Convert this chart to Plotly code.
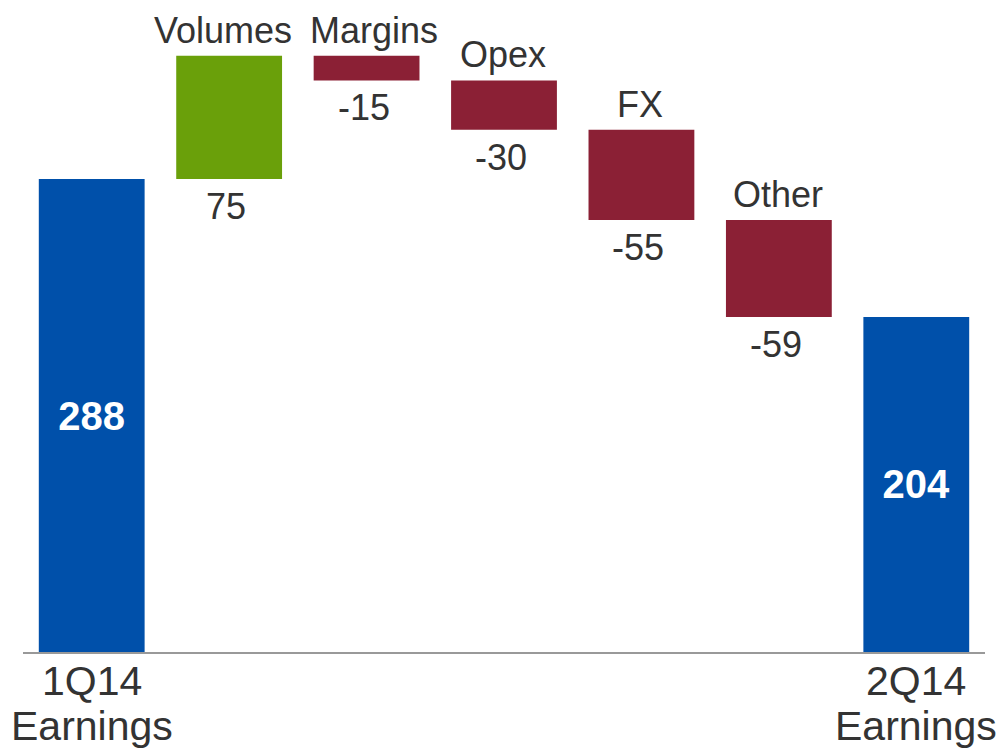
import plotly.graph_objects as go

# Earnings bridge, 1Q14 -> 2Q14
categories = ["1Q14 Earnings", "Volumes", "Margins", "Opex", "FX", "Other", "2Q14 Earnings"]
start_total = 288
changes = [75, -15, -30, -55, -59]
end_total = 204
tick_labels = ["1Q14<br>Earnings", "", "", "", "", "", "2Q14<br>Earnings"]

BLUE = "#0050AA"
GREEN = "#6AA00A"
RED = "#8B2035"
TEXT = "#333333"
FONT = "Liberation Sans, Arial, sans-serif"

# floating bar bases and heights
bases = [0]
heights = [start_total]
colors = [BLUE]
running = start_total
for c in changes:
    lo = running if c >= 0 else running + c
    bases.append(lo)
    heights.append(abs(c))
    colors.append(GREEN if c >= 0 else RED)
    running += c
bases.append(0)
heights.append(end_total)
colors.append(BLUE)

inside_text = [str(start_total)] + [""] * len(changes) + [str(end_total)]

fig = go.Figure(go.Bar(
    x=categories,
    y=heights,
    base=bases,
    marker=dict(color=colors, line=dict(width=0)),
    text=inside_text,
    textposition="inside",
    insidetextanchor="middle",
    textangle=0,
    textfont=dict(family=FONT, size=40, color="white", weight="bold"),
    width=0.77,
    hoverinfo="skip",
))

# keep the two crowded top labels apart
name_nudge = {"Volumes": -6, "Margins": 7}

# step labels: name above each change bar, value below it
annotations = []
for i, c in enumerate(changes, start=1):
    top = bases[i] + heights[i]
    bottom = bases[i]
    annotations.append(dict(
        x=categories[i], y=top, text=categories[i], showarrow=False,
        yanchor="bottom", yshift=3, xshift=name_nudge.get(categories[i], -1),
        font=dict(family=FONT, size=36, color=TEXT),
    ))
    annotations.append(dict(
        x=categories[i], y=bottom, text=str(c), showarrow=False,
        yanchor="top", yshift=-5, xshift=-3,
        font=dict(family=FONT, size=36, color=TEXT),
    ))

# category labels under the axis, one annotation per line for tight spacing
for cat, lab in zip(categories, tick_labels):
    if not lab:
        continue
    for k, line in enumerate(lab.split("<br>")):
        annotations.append(dict(
            x=cat, xref="x", y=0, yref="paper", text=line, showarrow=False,
            yanchor="middle", yshift=-29 - 45 * k,
            font=dict(family=FONT, size=41, color=TEXT),
        ))

fig.update_layout(
    width=998,
    height=752,
    margin=dict(l=23, r=13, t=0, b=100, autoexpand=False),
    paper_bgcolor="white",
    plot_bgcolor="white",
    showlegend=False,
    annotations=annotations,
    uniformtext=dict(mode=False),
)
fig.update_xaxes(
    range=[-0.5, len(categories) - 0.5],
    autorange=False,
    showticklabels=False,
    showline=True,
    linecolor="#999999",
    linewidth=2,
    showgrid=False,
    ticks="",
)
fig.update_yaxes(
    range=[0, 397],
    autorange=False,
    visible=False,
    showgrid=False,
    zeroline=False,
)

fig.write_html("out.html")
